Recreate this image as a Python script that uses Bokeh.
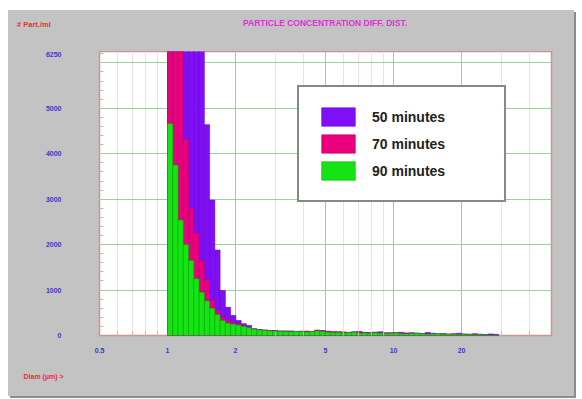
from bokeh.plotting import figure
from bokeh.layouts import column
from bokeh.models import (Range1d, FixedTicker, Legend, LegendItem, Title, Div,
                          ColumnDataSource, NumeralTickFormatter)
from bokeh.embed import file_html
from bokeh.resources import INLINE

# ---------------- data ----------------
# lower/upper bin edges of the diameter classes (µm), log-spaced
diam_edges = [1.000, 1.055, 1.113, 1.174, 1.239, 1.307, 1.379, 1.455, 1.535, 1.619,
              1.708, 1.802, 1.901, 2.006, 2.116, 2.233, 2.355, 2.485, 2.621, 2.766,
              2.918, 3.078, 3.248, 3.426, 3.615, 3.813, 4.023, 4.245, 4.478, 4.724,
              4.984, 5.258, 5.547, 5.852, 6.174, 6.514, 6.872, 7.250, 7.649, 8.069,
              8.513, 8.982, 9.476, 9.997, 10.546, 11.126, 11.738, 12.384, 13.065, 13.784,
              14.542, 15.342, 16.185, 17.076, 18.015, 19.005, 20.051, 21.153, 22.317, 23.544,
              24.839, 26.205, 27.646, 29.167]

# particle concentration (# part./ml) per bin
conc_50 = [7500, 9800, 10500, 9500, 8200, 7400, 6600, 4640, 2980, 1880,
           990, 620, 440, 330, 260, 220, 150, 130,
           120, 110, 110, 100, 95, 100, 90, 85, 95, 90,
           110, 105, 90, 80, 85, 75, 70, 80, 90, 70,
           65, 75, 80, 60, 55, 65, 70, 50, 60, 55,
           45, 65, 50, 40, 45, 35, 40, 50, 35, 30,
           40, 30, 20, 35, 25]
conc_70 = [9200, 8400, 6900, 4300, 2800, 2250, 1650, 1220, 770, 550,
           400, 330, 290, 250, 220, 180, 140, 130,
           120, 110, 100, 95, 100, 90, 85, 95, 90, 80,
           120, 110, 95, 80, 75, 70, 65, 75, 60, 55,
           60, 65, 55, 50, 60, 50, 45, 55, 50, 40,
           45, 35, 30, 35, 25, 20, 25, 15, 20, 15,
           10, 10, 5, 5, 0]
conc_90 = [4660, 3750, 2540, 2000, 1650, 1250, 950, 760, 600, 460,
           330, 270, 250, 230, 200, 170, 140, 120,
           110, 100, 95, 90, 85, 80, 90, 80, 75, 85,
           100, 90, 70, 60, 65, 55, 60, 70, 50, 55,
           45, 60, 50, 40, 45, 55, 40, 35, 45, 50,
           40, 30, 35, 40, 30, 25, 30, 20, 25, 20,
           15, 20, 10, 10, 5]

series_names = ["50 minutes", "70 minutes", "90 minutes"]
bar_fill = ["#7f10f6", "#e8007c", "#14e414"]
bar_line = ["#6a00d0", "#c0006a", "#00b000"]

y_tick_values = [0, 1000, 2000, 3000, 4000, 5000, 6250]
y_grid_values = [1000, 2000, 3000, 4000, 5000, 6000]
x_tick_values = [0.5, 1, 2, 5, 10, 20]
x_grid_values = [1, 2, 5, 10, 20]
x_minor_values = [0.6, 0.7, 0.8, 0.9, 3, 4, 6, 7, 8, 9, 30, 40]
y_minor_values = list(range(200, 6250, 200))

title_text = "PARTICLE CONCENTRATION DIFF. DIST."
y_title = "# Part./ml"
x_title = "Diam (µm) >"

GRAY = "#c3c3c3"

# ---------------- header (title + y unit) ----------------
header_html = (
    '<div style="position:relative;width:566px;height:41px;'
    'font-family:\'Liberation Sans\',Arial,sans-serif;font-weight:bold;">'
    '<span style="position:absolute;left:9px;top:10px;line-height:10px;'
    f'font-size:7.5px;color:#e83030;white-space:nowrap;">{y_title}</span>'
    '<span style="position:absolute;left:0px;width:634px;top:8px;line-height:10px;'
    f'text-align:center;font-size:8.5px;color:#e030d8;white-space:nowrap;">{title_text}</span>'
    '</div>'
)
header = Div(text=header_html, width=566, height=41, margin=(0, 0, 0, 0),
             styles={"background-color": GRAY})

# ---------------- figure ----------------
p = figure(width=566, height=345, x_axis_type="log",
           x_range=Range1d(0.5, 50), y_range=Range1d(0, 6250),
           output_backend="svg", toolbar_location=None,
           min_border_left=91, min_border_right=23,
           min_border_top=0, min_border_bottom=61)
p.margin = (0, 0, 0, 0)

p.border_fill_color = GRAY
p.background_fill_color = "white"
p.outline_line_color = "#c89494"
p.outline_line_width = 1.5

lefts = diam_edges[:-1]
rights = diam_edges[1:]
bar_renderers = []
for vals, fc, lc in zip([conc_50, conc_70, conc_90], bar_fill, bar_line):
    src = ColumnDataSource(dict(left=lefts, right=rights, top=vals,
                                bottom=[0] * len(vals)))
    r = p.quad(left="left", right="right", top="top", bottom="bottom", source=src,
               fill_color=fc, line_color=lc, line_width=0.6)
    bar_renderers.append(r)

leg_items = [LegendItem(label=name, renderers=[r])
             for name, r in zip(series_names, bar_renderers)]

legend = Legend(items=leg_items, location=(198, 133),
                glyph_width=42, glyph_height=23, spacing=4, padding=18,
                label_standoff=13, label_width=114,
                label_text_font="Liberation Sans", label_text_font_size="14px",
                label_text_font_style="bold", label_text_color="#222222",
                border_line_color="#111111", border_line_width=2.5,
                background_fill_color="white", background_fill_alpha=1.0)
p.add_layout(legend)

# axes
p.yaxis.ticker = FixedTicker(ticks=y_tick_values, minor_ticks=y_minor_values)
p.yaxis.axis_line_color = None
p.yaxis.major_tick_line_color = None
p.yaxis.minor_tick_in = 4
p.yaxis.minor_tick_out = 0
p.yaxis.minor_tick_line_color = "#d8b0b0"
p.yaxis.major_label_standoff = 32
p.yaxis.major_label_text_font = "Liberation Sans"
p.yaxis.major_label_text_font_size = "7px"
p.yaxis.major_label_text_font_style = "bold"
p.yaxis.major_label_text_color = "#3a3ac8"

p.xaxis.ticker = FixedTicker(ticks=x_tick_values, minor_ticks=x_minor_values)
p.xaxis.formatter = NumeralTickFormatter(format="0.[0]")
p.xaxis.axis_line_color = None
p.xaxis.major_tick_line_color = None
p.xaxis.minor_tick_in = 4
p.xaxis.minor_tick_out = 0
p.xaxis.minor_tick_line_color = "#d8b0b0"
p.xaxis.major_label_standoff = 6
p.xaxis.major_label_text_align = "right"
p.xaxis.major_label_text_font = "Liberation Sans"
p.xaxis.major_label_text_font_size = "7px"
p.xaxis.major_label_text_font_style = "bold"
p.xaxis.major_label_text_color = "#3a3ac8"

# grids
p.xgrid.ticker = FixedTicker(ticks=x_grid_values, minor_ticks=x_minor_values)
p.xgrid.grid_line_color = "#98d498"
p.xgrid.grid_line_width = 1
p.xgrid.minor_grid_line_color = "#f2dede"
p.ygrid.ticker = FixedTicker(ticks=y_grid_values)
p.ygrid.grid_line_color = "#98d498"
p.ygrid.grid_line_width = 1

p.add_layout(Title(text=x_title, align="left", offset=-76, standoff=30,
                   text_font="Liberation Sans", text_font_size="7px",
                   text_font_style="bold", text_color="#e83030"), "below")

layout = column(header, p, spacing=0, margin=(10, 0, 0, 8),
                styles={"box-shadow": "2px 2px 0px #8c8c8c",
                        "background-color": GRAY})

open("out.html", "w").write(file_html(layout, INLINE))
